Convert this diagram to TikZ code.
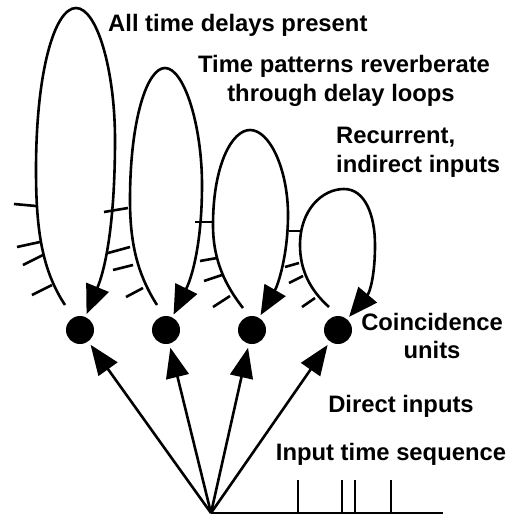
\documentclass[tikz,border=0pt]{standalone}
\usepackage{fontspec}
\setmainfont{Liberation Sans}
\usetikzlibrary{arrows.meta}
\begin{document}
\begin{tikzpicture}[x=1pt,y=-1pt,
  loopline/.style={line width=2.6pt,-{Triangle[length=29pt,width=24pt]},shorten >=3pt},
  inarrow/.style={line width=2.6pt,-{Triangle[length=30pt,width=23pt]},shorten >=4pt},
  tickline/.style={line width=2.6pt},
  unit/.style={circle,fill=black,inner sep=0pt,minimum size=28pt},
  lbl/.style={font=\bfseries\fontsize{23.8}{27}\selectfont,inner sep=0pt}]
\useasboundingbox (0,0) rectangle (512,516);
% coincidence units
\node[unit] (d1) at (80,330) {};
\node[unit] (d2) at (166,330) {};
\node[unit] (d3) at (252,330) {};
\node[unit] (d4) at (338,330) {};
% delay loops
\draw[loopline] (65,305) .. controls (42,270) and (36,230) .. (36,170)
  .. controls (36,70) and (55,8) .. (76,8)
  .. controls (97,8) and (115,70) .. (115,140)
  .. controls (115,210) and (108,262) .. (d1);
\draw[loopline] (157,305) .. controls (138,275) and (130,245) .. (130,200)
  .. controls (130,120) and (147,68) .. (165,68)
  .. controls (184,68) and (202,125) .. (202,185)
  .. controls (202,240) and (193,275) .. (d2);
\draw[loopline] (243,308) .. controls (225,285) and (213,260) .. (213,225)
  .. controls (213,165) and (232,130) .. (250,130)
  .. controls (270,130) and (288,170) .. (288,215)
  .. controls (288,255) and (278,285) .. (d3);
\draw[loopline] (329,307) .. controls (310,290) and (300,270) .. (300,245)
  .. controls (300,210) and (322,189) .. (344,189)
  .. controls (365,189) and (375,215) .. (375,245)
  .. controls (375,275) and (370,292) .. (d4);
% delay taps
\draw[tickline] (14,204) -- (36,206);
\draw[tickline] (17,247) -- (40,242);
\draw[tickline] (23,265) -- (43,255);
\draw[tickline] (32,295) -- (52,285);
\draw[tickline] (104,212) -- (128,208);
\draw[tickline] (108,253) -- (130,247);
\draw[tickline] (113,270) -- (133,265);
\draw[tickline] (126,297) -- (143,288);
\draw[tickline] (195,222) -- (213,222);
\draw[tickline] (200,261) -- (217,258);
\draw[tickline] (204,281) -- (222,275);
\draw[tickline] (213,307) -- (230,296);
\draw[tickline] (289,231) -- (300,231);
\draw[tickline] (285,267) -- (299,263);
\draw[tickline] (289,283) -- (303,276);
\draw[tickline] (302,307) -- (315,298);
% direct inputs
\coordinate (src) at (211,513);
\coordinate (axisend) at (443,513);
\draw[inarrow] (src) -- (d1);
\draw[inarrow] (src) -- (d2);
\draw[inarrow] (src) -- (d3);
\draw[inarrow] (src) -- (d4);
% input time sequence
\draw[tickline] (src) -- (axisend);
\draw[tickline] (298,480) -- (298,513);
\draw[tickline] (342,480) -- (342,513);
\draw[tickline] (355,480) -- (355,513);
\draw[tickline] (391,480) -- (391,513);
% labels
\node[lbl,anchor=base west] (t1) at (108,32) {All time delays present};
\node[lbl,anchor=base] (t2) at (344,73) {Time patterns reverberate};
\node[lbl,anchor=base] (t3) at (341,102) {through delay loops};
\node[lbl,anchor=base west] (t4) at (336,143) {Recurrent,};
\node[lbl,anchor=base west] (t5) at (336,172) {indirect inputs};
\node[lbl,anchor=base] (t6) at (432,330) {Coincidence};
\node[lbl,anchor=base] (t7) at (432,358) {units};
\node[lbl,anchor=base] (t8) at (401,412) {Direct inputs};
\node[lbl,anchor=base] (t9) at (391,460) {Input time sequence};
\end{tikzpicture}
\end{document}
